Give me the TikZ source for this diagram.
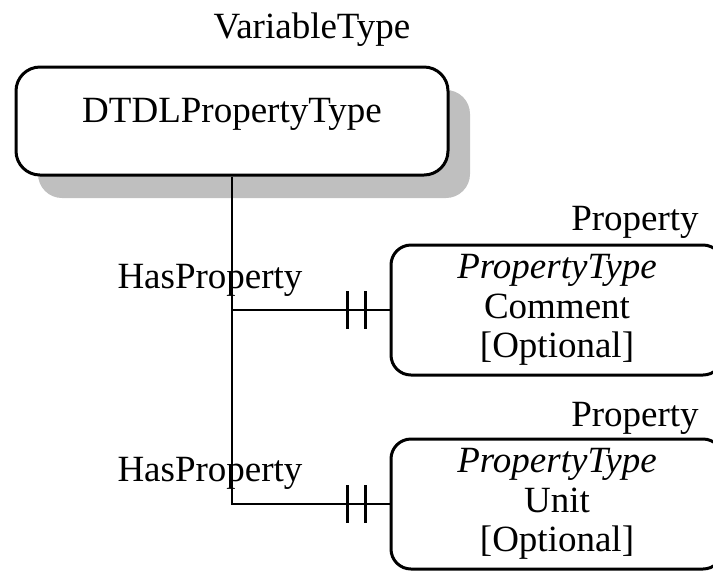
\documentclass[tikz,border=0pt]{standalone}
\usepackage{fontspec}
\setmainfont{Liberation Serif}
\usetikzlibrary{shadows,calc}

\tikzset{
  bigbox/.style={draw, line width=1.5pt, rounded corners=12pt, fill=white,
    minimum width=216pt, minimum height=54pt, text depth=11pt,
    drop shadow={shadow xshift=11pt, shadow yshift=-11.5pt, fill=black!25, opacity=1}},
  propbox/.style={draw, line width=1.5pt, rounded corners=10pt, fill=white,
    minimum width=166pt, minimum height=65pt, align=center},
  link/.style={line width=0.75pt},
  tick/.style={line width=1.3pt}
}

\begin{document}
\begin{tikzpicture}[x=0.5pt, y=-0.5pt, font=\fontsize{18.5}{19.75}\selectfont]
  \useasboundingbox (0,0) rectangle (713,570);

  % entities
  \node[bigbox] (dtdl) at (232,121) {DTDLPropertyType};
  \node (vartype) at (312,30) {VariableType};

  \node[propbox] (comment) at (557,310) {\textit{PropertyType}\\Comment\\ {[Optional]}};
  \node (prop1) at (635,222) {Property};

  \node[propbox] (unit) at (557,504) {\textit{PropertyType}\\Unit\\ {[Optional]}};
  \node (prop2) at (635,418) {Property};

  % relations
  \draw[link] (dtdl.south) |- (unit.west);
  \draw[link] (dtdl.south |- comment.west) -- (comment.west);
  \node (has1) at (210,280) {HasProperty};
  \node (has2) at (210,473) {HasProperty};

  % one-and-only-one marks
  \foreach \ent in {comment,unit}
    \foreach \dx in {24,42}
      \draw[tick] ($(\ent.west)+(-\dx,-19)$) -- ($(\ent.west)+(-\dx,19)$);
\end{tikzpicture}
\end{document}
